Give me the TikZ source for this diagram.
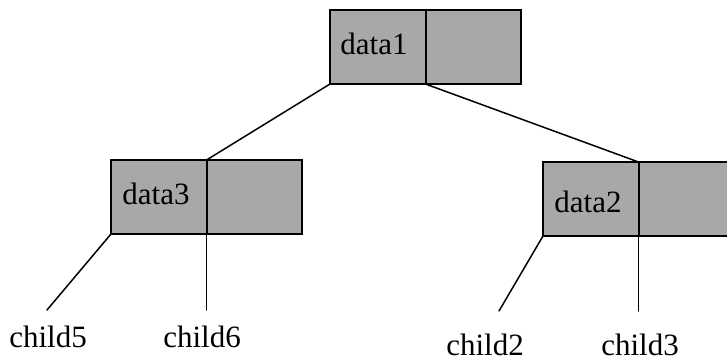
\documentclass[tikz,border=0pt]{standalone}
\usepackage{fontspec}
\setmainfont{Liberation Serif}
\definecolor{cellgray}{RGB}{168,168,168}
\begin{document}
\begin{tikzpicture}[x=1pt,y=-1pt,
  cell/.style={draw=black,fill=cellgray,line width=2pt,rectangle,inner sep=0pt,
    outer sep=0pt,minimum width=95.5pt,minimum height=74pt},
  label/.style={inner sep=0pt,anchor=base,text depth=0pt,font=\fontsize{31}{36}\selectfont},
  edge/.style={line width=1.5pt,line cap=round}]
  \useasboundingbox (0,0) rectangle (727,363);
  \clip (0,0) rectangle (727,363);

  % root record
  \node[cell,anchor=north west] (r1) at (330,10) {};
  \node[cell,anchor=west] (r1b) at (r1.east) {};
  \node[label] (t1) at (374,55) {data1};

  % left record
  \node[cell,anchor=north west] (l1) at (111,160) {};
  \node[cell,anchor=west] (l1b) at (l1.east) {};
  \node[label] (t3) at (156,205) {data3};

  % right record (runs past the right edge)
  \node[cell,anchor=north west] (g1) at (543,162) {};
  \node[cell,anchor=west] (g1b) at (g1.east) {};
  \node[label] (t2) at (588,212) {data2};

  % leaves
  \node[label] (c5) at (48,347) {child5};
  \node[label] (c6) at (202,347) {child6};
  \node[label] (c2) at (485,355) {child2};
  \node[label] (c3) at (640,355) {child3};
  \coordinate (e5) at (47,310);
  \coordinate (e6) at (l1.south east |- 0,310);
  \coordinate (e2) at (499,311);
  \coordinate (e3) at (g1.south east |- 0,311);

  % links
  \draw[edge] (r1.south west) -- (l1.north east);
  \draw[edge] (r1.south east) -- (g1.north east);
  \draw[edge] (l1.south west) -- (e5);
  \draw[edge] (l1.south east) -- (e6);
  \draw[edge] (g1.south west) -- (e2);
  \draw[edge] (g1.south east) -- (e3);
\end{tikzpicture}
\end{document}
